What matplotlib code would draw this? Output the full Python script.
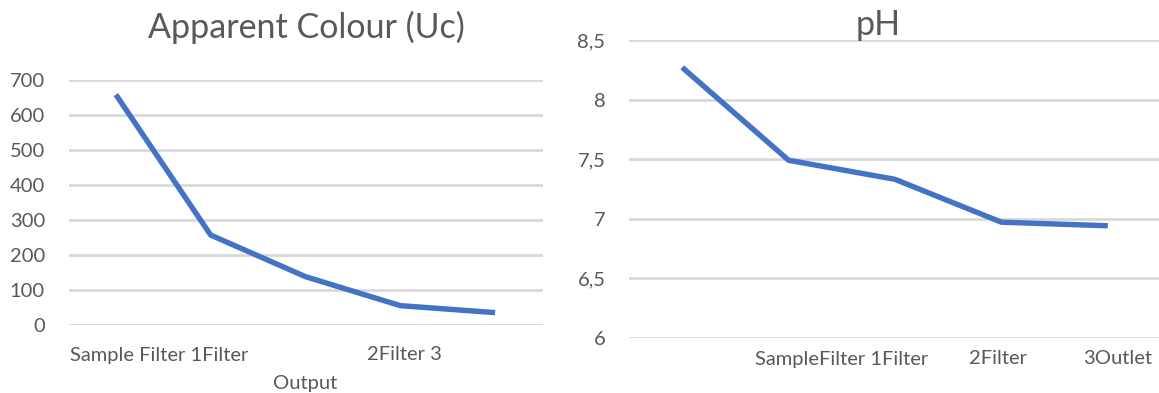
import matplotlib
matplotlib.use("Agg")
import matplotlib.pyplot as plt
from matplotlib.transforms import blended_transform_factory

plt.rcParams['font.family'] = ['Lato', 'DejaVu Sans']

# Apparent colour by treatment stage
colour_stages = ["Sample", "Filter 1", "Filter 2", "Filter 3", "Output"]
colour_values = [658, 256, 137, 54, 34]
colour_ticks = [0, 100, 200, 300, 400, 500, 600, 700]
colour_tick_labels = ["0", "100", "200", "300", "400", "500", "600", "700"]
colour_xlabel_rows = ["Sample Filter 1Filter", "2Filter 3"]
colour_xlabel_pos = [-0.484, 2.646]
colour_xlabel_last = "Output"

# pH by treatment stage
ph_stages = ["Sample", "Filter 1", "Filter 2", "Filter 3", "Outlet"]
ph_values = [8.27, 7.49, 7.33, 6.97, 6.94]
ph_ticks = [6, 6.5, 7, 7.5, 8, 8.5]
ph_tick_labels = ["6", "6,5", "7", "7,5", "8", "8,5"]
ph_xlabel_rows = ["SampleFilter 1Filter", "2Filter", "3Outlet"]
ph_xlabel_pos = [0.684, 2.698, 3.767]

LINE = "#4472C4"
GRID = "#D9D9D9"
TEXT = "#595959"
LABEL_SIZE = 14.5

W, H = 1159, 393
fig = plt.figure(figsize=(W / 100, H / 100), dpi=100)


def frac(x0, x1, ytop, ybot):
    return [x0 / W, 1 - ybot / H, (x1 - x0) / W, (ybot - ytop) / H]


def style(ax, ticks, labels, ylim):
    ax.set_xlim(-0.5, 4.5)
    ax.set_ylim(*ylim)
    ax.set_yticks(ticks)
    ax.set_yticklabels(labels)
    ax.set_xticks([])
    for s in ax.spines.values():
        s.set_visible(False)
    ax.tick_params(axis='y', length=0, pad=17, labelsize=LABEL_SIZE,
                   labelcolor=TEXT)
    ax.grid(axis='y', color=GRID, linewidth=2.0)
    ax.set_axisbelow(True)


# Left panel
ax1 = fig.add_axes(frac(68.5, 542.5, 80, 324.5))
style(ax1, colour_ticks, colour_tick_labels, (0, 700))
ax1.plot(range(len(colour_values)), colour_values, color=LINE, linewidth=3.9,
         solid_capstyle='butt', solid_joinstyle='round')
tr1 = blended_transform_factory(ax1.transData, fig.transFigure)
for txt, xp in zip(colour_xlabel_rows, colour_xlabel_pos):
    fig.text(xp, 1 - 355 / H, txt, transform=tr1, ha='left', va='center',
             fontsize=LABEL_SIZE, color=TEXT)
fig.text(2, 1 - 383 / H, colour_xlabel_last, transform=tr1, ha='center',
         va='center', fontsize=LABEL_SIZE, color=TEXT)
fig.text(306 / W, 1 - 27 / H, "Apparent Colour (Uc)", ha='center', va='center',
         fontsize=24.5, color=TEXT)

# Right panel
ax2 = fig.add_axes(frac(629, 1161, 40, 337.7))
style(ax2, ph_ticks, ph_tick_labels, (6, 8.5))
ax2.plot(range(len(ph_values)), ph_values, color=LINE, linewidth=3.9,
         solid_capstyle='butt', solid_joinstyle='round')
tr2 = blended_transform_factory(ax2.transData, fig.transFigure)
for txt, xp in zip(ph_xlabel_rows, ph_xlabel_pos):
    fig.text(xp, 1 - 359 / H, txt, transform=tr2, ha='left', va='center',
             fontsize=LABEL_SIZE, color=TEXT)
fig.text(878 / W, 1 - 25 / H, "pH", ha='center', va='center',
         fontsize=24.5, color=TEXT)

fig.savefig("out.png", dpi=100, facecolor="white")
